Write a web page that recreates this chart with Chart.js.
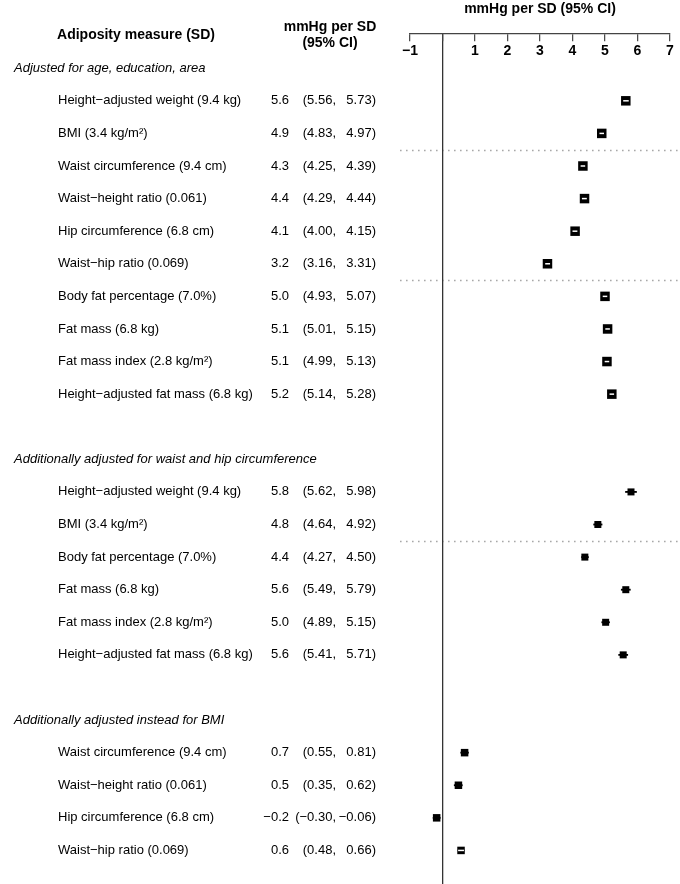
<!DOCTYPE html>
<html>
<head>
<meta charset="utf-8">
<script src="https://cdn.jsdelivr.net/npm/chart.js@4.4.1/dist/chart.umd.min.js"></script>
<style>
  html, body { margin: 0; padding: 0; background: #fff; }
  #wrap { width: 680px; height: 884px; }
</style>
</head>
<body>
<div id="wrap"><canvas id="forest" width="680" height="884"></canvas></div>
<script>
// section headings
const sectionTitles = [
    'Adjusted for age, education, area',
    'Additionally adjusted for waist and hip circumference',
    'Additionally adjusted instead for BMI'
];

// section 1
const labelsA = [
    'Height\u2212adjusted weight (9.4 kg)', 'BMI (3.4 kg/m\u00b2)',
    'Waist circumference (9.4 cm)', 'Waist\u2212height ratio (0.061)',
    'Hip circumference (6.8 cm)', 'Waist\u2212hip ratio (0.069)',
    'Body fat percentage (7.0%)', 'Fat mass (6.8 kg)',
    'Fat mass index (2.8 kg/m\u00b2)', 'Height\u2212adjusted fat mass (6.8 kg)'
];
const estA  = [5.64, 4.90, 4.32, 4.37, 4.08, 3.23, 5.00, 5.08, 5.06, 5.21];
const lowA  = [5.56, 4.83, 4.25, 4.29, 4.00, 3.16, 4.93, 5.01, 4.99, 5.14];
const highA = [5.73, 4.97, 4.39, 4.44, 4.15, 3.31, 5.07, 5.15, 5.13, 5.28];
const sepA  = [2, 6];

// section 2
const labelsB = [
    'Height\u2212adjusted weight (9.4 kg)', 'BMI (3.4 kg/m\u00b2)',
    'Body fat percentage (7.0%)', 'Fat mass (6.8 kg)',
    'Fat mass index (2.8 kg/m\u00b2)', 'Height\u2212adjusted fat mass (6.8 kg)'
];
const estB  = [5.80, 4.78, 4.38, 5.64, 5.02, 5.56];
const lowB  = [5.62, 4.64, 4.27, 5.49, 4.89, 5.41];
const highB = [5.98, 4.92, 4.50, 5.79, 5.15, 5.71];
const sepB  = [2];

// section 3
const labelsC = [
    'Waist circumference (9.4 cm)', 'Waist\u2212height ratio (0.061)',
    'Hip circumference (6.8 cm)', 'Waist\u2212hip ratio (0.069)'
];
const estC  = [0.68, 0.49, -0.18, 0.57];
const lowC  = [0.55, 0.35, -0.30, 0.48];
const highC = [0.81, 0.62, -0.06, 0.66];
const sepC  = [];

const xTicks = [-1, 0, 1, 2, 3, 4, 5, 6, 7];

// styling
const FONT = '"Liberation Sans", Arial, Helvetica, sans-serif';
const boxSide = [9.5, 7, 7.5];

const sections = [
    { title: sectionTitles[0], labels: labelsA, est: estA, low: lowA, high: highA, seps: sepA },
    { title: sectionTitles[1], labels: labelsB, est: estB, low: lowB, high: highB, seps: sepB },
    { title: sectionTitles[2], labels: labelsC, est: estC, low: lowC, high: highC, seps: sepC }
];

// header row, item rows, one blank row
let row = 0;
sections.forEach(s => {
    s.headerRow = row;
    s.rows = s.labels.map((_, i) => row + 1 + i);
    row += s.labels.length + 2;
});

const minus = str => str.replace('-', '\u2212');

const dottedPlugin = {
    id: 'dotted',
    beforeDraw(chart) {
        const ctx = chart.ctx, ys = chart.scales.y;
        ctx.save();
        ctx.strokeStyle = '#a8a8a8';
        ctx.lineWidth = 1.6;
        ctx.setLineDash([1.6, 4.4]);
        sections.forEach(s => {
            s.seps.forEach(i => {
                const y = Math.round(ys.getPixelForValue(s.rows[i] - 0.5)) + 0.5;
                ctx.beginPath();
                ctx.moveTo(400, y);
                ctx.lineTo(680, y);
                ctx.stroke();
            });
        });
        ctx.restore();
    }
};

const ciPlugin = {
    id: 'ci',
    beforeDatasetsDraw(chart) {
        const ctx = chart.ctx, xs = chart.scales.x;
        ctx.save();
        ctx.strokeStyle = '#000';
        ctx.lineWidth = 1.8;
        sections.forEach((s, k) => {
            chart.getDatasetMeta(k).data.forEach((pt, i) => {
                ctx.beginPath();
                ctx.moveTo(xs.getPixelForValue(s.low[i]), pt.y);
                ctx.lineTo(xs.getPixelForValue(s.high[i]), pt.y);
                ctx.stroke();
            });
        });
        ctx.restore();
    },
    afterDatasetsDraw(chart) {
        // CI narrower than the box is drawn in white on top of it
        const ctx = chart.ctx, xs = chart.scales.x;
        ctx.save();
        ctx.strokeStyle = '#fff';
        ctx.lineWidth = 1.5;
        sections.forEach((s, k) => {
            chart.getDatasetMeta(k).data.forEach((pt, i) => {
                const x1 = xs.getPixelForValue(s.low[i]);
                const x2 = xs.getPixelForValue(s.high[i]);
                if (x2 - x1 < boxSide[k] - 1) {
                    ctx.beginPath();
                    ctx.moveTo(x1, pt.y);
                    ctx.lineTo(x2, pt.y);
                    ctx.stroke();
                }
            });
        });
        ctx.restore();
    }
};

const textPlugin = {
    id: 'texts',
    afterDraw(chart) {
        const ctx = chart.ctx, ys = chart.scales.y, area = chart.chartArea;
        ctx.save();
        ctx.fillStyle = '#000';
        ctx.textBaseline = 'middle';

        // headers
        ctx.font = 'bold 14px ' + FONT;
        ctx.textAlign = 'center';
        ctx.fillText('Adiposity measure (SD)', 136, 35);
        ctx.fillText('mmHg per SD', 330, 27);
        ctx.fillText('(95% CI)', 330, 43);
        ctx.fillText('mmHg per SD (95% CI)', (area.left + area.right) / 2, 9);

        sections.forEach(s => {
            ctx.font = 'italic 13px ' + FONT;
            ctx.textAlign = 'left';
            ctx.fillText(s.title, 14, ys.getPixelForValue(s.headerRow));

            ctx.font = '13px ' + FONT;
            s.labels.forEach((lab, i) => {
                const y = ys.getPixelForValue(s.rows[i]);
                ctx.textAlign = 'left';
                ctx.fillText(lab, 58, y);
                ctx.textAlign = 'right';
                ctx.fillText(minus(s.est[i].toFixed(1)), 289, y);
                ctx.fillText('(' + minus(s.low[i].toFixed(2)) + ',', 336, y);
                ctx.fillText(minus(s.high[i].toFixed(2)) + ')', 376, y);
            });
        });
        ctx.restore();
    }
};

new Chart(document.getElementById('forest'), {
    type: 'scatter',
    data: {
        datasets: sections.map((s, k) => ({
            data: s.est.map((v, i) => ({ x: v, y: s.rows[i] })),
            pointStyle: 'rect',
            pointRadius: boxSide[k] / Math.SQRT2,
            pointHoverRadius: boxSide[k] / Math.SQRT2,
            backgroundColor: '#000',
            borderWidth: 0
        }))
    },
    options: {
        responsive: false,
        animation: false,
        events: [],
        layout: { autoPadding: false, padding: { left: 410, right: 10, top: 34, bottom: 0 } },
        plugins: { legend: { display: false }, tooltip: { enabled: false } },
        scales: {
            y: {
                type: 'linear',
                display: false,
                reverse: true,
                min: -1.05,
                max: 25.03
            },
            x: {
                type: 'linear',
                position: { y: -1.05 },
                min: -1,
                max: 7,
                afterBuildTicks: scale => { scale.ticks = xTicks.map(v => ({ value: v })); },
                border: { display: true, color: '#444', width: 1.2 },
                grid: {
                    drawOnChartArea: true,
                    color: c => (c.tick && c.tick.value === 0) ? '#333' : 'rgba(0,0,0,0)',
                    lineWidth: 1.3,
                    tickColor: '#444',
                    tickLength: 7,
                    tickWidth: 1.2
                },
                ticks: {
                    autoSkip: false,
                    maxRotation: 0,
                    padding: 2,
                    color: '#000',
                    font: { family: FONT, size: 14, weight: 'bold' },
                    callback: v => v === 0 ? '' : minus(String(v))
                }
            }
        }
    },
    plugins: [dottedPlugin, ciPlugin, textPlugin]
});
</script>
</body>
</html>
